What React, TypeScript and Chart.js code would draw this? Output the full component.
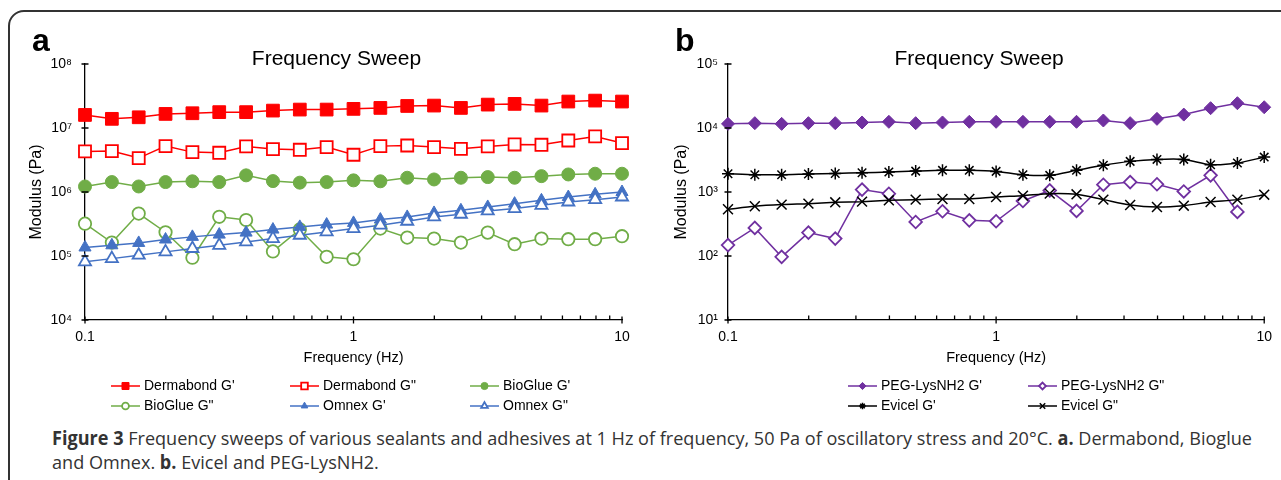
import React, { useEffect, useLayoutEffect, useRef, useState } from 'react';
import { Chart, registerables } from 'chart.js';
import { drawPoint } from 'chart.js/helpers';

Chart.register(...registerables);

const FONT = "'Liberation Sans', Arial, Helvetica, sans-serif";

// ---------- data ----------
const frequencies = [0.1, 0.1259, 0.1585, 0.1995, 0.2512, 0.3162, 0.3981, 0.5012, 0.631, 0.7943, 1, 1.259, 1.585, 1.995, 2.512, 3.162, 3.981, 5.012, 6.31, 7.943, 10];

const dermabondGp = [1.6e7, 1.39e7, 1.47e7, 1.66e7, 1.7e7, 1.77e7, 1.77e7, 1.87e7, 1.94e7, 1.94e7, 1.99e7, 2.06e7, 2.21e7, 2.24e7, 2.06e7, 2.32e7, 2.38e7, 2.24e7, 2.59e7, 2.68e7, 2.59e7];
const dermabondGpp = [4.3e6, 4.36e6, 3.39e6, 5.21e6, 4.2e6, 4.1e6, 5.15e6, 4.68e6, 4.57e6, 5.03e6, 3.82e6, 5.21e6, 5.33e6, 5.03e6, 4.73e6, 5.15e6, 5.53e6, 5.47e6, 6.38e6, 7.38e6, 5.81e6];
const bioglueGp = [1.22e6, 1.43e6, 1.22e6, 1.43e6, 1.47e6, 1.43e6, 1.82e6, 1.48e6, 1.4e6, 1.43e6, 1.52e6, 1.47e6, 1.67e6, 1.57e6, 1.67e6, 1.71e6, 1.67e6, 1.77e6, 1.88e6, 1.93e6, 1.93e6];
const bioglueGpp = [3.2e5, 1.62e5, 4.6e5, 2.35e5, 9.4e4, 4.1e5, 3.65e5, 1.18e5, 2.6e5, 9.7e4, 8.9e4, 2.68e5, 1.94e5, 1.87e5, 1.62e5, 2.32e5, 1.53e5, 1.87e5, 1.83e5, 1.83e5, 2.04e5];
const omnexGp = [1.36e5, 1.47e5, 1.6e5, 1.81e5, 1.99e5, 2.16e5, 2.32e5, 2.59e5, 2.85e5, 3.1e5, 3.29e5, 3.71e5, 4.08e5, 4.71e5, 5.18e5, 5.84e5, 6.58e5, 7.41e5, 8.35e5, 9.2e5, 1.0e6];
const omnexGpp = [8.1e4, 9.1e4, 1.03e5, 1.16e5, 1.31e5, 1.47e5, 1.66e5, 1.87e5, 2.11e5, 2.38e5, 2.68e5, 3.03e5, 3.49e5, 4.08e5, 4.49e5, 5.06e5, 5.5e5, 6.2e5, 6.98e5, 7.6e5, 8.35e5];

const pegGp = [1.16e4, 1.19e4, 1.16e4, 1.19e4, 1.19e4, 1.22e4, 1.25e4, 1.19e4, 1.22e4, 1.25e4, 1.25e4, 1.25e4, 1.25e4, 1.25e4, 1.31e4, 1.19e4, 1.39e4, 1.62e4, 2.04e4, 2.44e4, 2.11e4];
const pegGpp = [148, 275, 97, 232, 187, 1090, 940, 340, 500, 361, 349, 724, 1060, 506, 1300, 1430, 1320, 1020, 1820, 488, null];
const evicelGp = [1930, 1860, 1860, 1910, 1950, 2000, 2050, 2120, 2180, 2180, 2100, 1860, 1820, 2180, 2610, 3010, 3230, 3230, 2670, 2830, 3510];
const evicelGpp = [537, 598, 635, 658, 690, 707, 741, 760, 778, 778, 836, 877, 943, 920, 760, 627, 583, 612, 698, 760, 908];

const xMajorTicks = [0.1, 1, 10];
const xMinorTicks = [0.2, 0.3, 0.4, 0.5, 0.6, 0.7, 0.8, 0.9, 2, 3, 4, 5, 6, 7, 8, 9];
const yTicksA = [1e4, 1e5, 1e6, 1e7, 1e8];
const yTicksB = [1e1, 1e2, 1e3, 1e4, 1e5];

const seriesNamesA = ["Dermabond G'", 'Dermabond G"', "BioGlue G'", 'BioGlue G"', "Omnex G'", 'Omnex G"'];
const seriesNamesB = ["PEG-LysNH2 G'", 'PEG-LysNH2 G"', "Evicel G'", 'Evicel G"'];

const chartTitle = 'Frequency Sweep';
const xTitle = 'Frequency (Hz)';
const yTitle = 'Modulus (Pa)';

// ---------- helpers ----------
const SUP: Record<string, string> = { '0': '⁰', '1': '¹', '2': '²', '3': '³', '4': '⁴', '5': '⁵', '6': '⁶', '7': '⁷', '8': '⁸', '9': '⁹', '-': '⁻' };
const powerLabel = (v: number) => '10' + String(Math.round(Math.log10(v))).split('').map((c) => SUP[c]).join('');
const xLabel = (v: number) => (v < 1 ? String(v) : String(Math.round(v)));

const pts = (vals: (number | null)[]) => frequencies.map((f, i) => ({ x: f, y: vals[i] }));

const RED = '#FF0000';
const GREEN = '#70AD47';
const BLUE = '#4472C4';
const PURPLE = '#7030A0';
const BLACK = '#000000';

function series(label: string, vals: (number | null)[], color: string, style: string, radius: number, filled: boolean, order: number, tension = 0) {
  return {
    label,
    data: pts(vals),
    borderColor: color,
    backgroundColor: color,
    borderWidth: 1.5,
    pointStyle: style,
    pointRadius: radius,
    pointHoverRadius: radius,
    pointBackgroundColor: filled ? color : '#FFFFFF',
    pointBorderColor: color,
    pointBorderWidth: filled ? 1 : 1.8,
    tension,
    clip: false as any,
    order,
  };
}

const decorPlugin = {
  id: 'decor',
  afterDraw(chart: any, _args: any, opts: any) {
    const ctx = chart.ctx as CanvasRenderingContext2D;
    const xs = chart.scales.x;
    const ys = chart.scales.y;
    const { left, right, bottom } = chart.chartArea;
    ctx.save();
    // tick marks
    ctx.strokeStyle = '#000';
    ctx.lineWidth = 1.3;
    ctx.beginPath();
    for (const v of opts.yTicks) {
      const y = ys.getPixelForValue(v);
      ctx.moveTo(left - 3.5, y);
      ctx.lineTo(left + 3.5, y);
    }
    for (const v of xMajorTicks) {
      const x = xs.getPixelForValue(v);
      ctx.moveTo(x, bottom - 3.5);
      ctx.lineTo(x, bottom + 3.5);
    }
    for (const v of xMinorTicks) {
      const x = xs.getPixelForValue(v);
      ctx.moveTo(x, bottom);
      ctx.lineTo(x, bottom - 4.5);
    }
    ctx.stroke();

    // title
    ctx.fillStyle = '#000';
    ctx.font = `21px ${FONT}`;
    ctx.textAlign = 'center';
    ctx.textBaseline = 'middle';
    ctx.fillText(opts.title, (left + right) / 2 - 17, 59);

    // legend
    const items = opts.items as { ds: number; col: number; row: number }[];
    for (const it of items) {
      const ds = chart.data.datasets[it.ds];
      const x0 = opts.cols[it.col];
      const y = opts.rows[it.row];
      ctx.strokeStyle = ds.borderColor;
      ctx.lineWidth = 1.5;
      ctx.beginPath();
      ctx.moveTo(x0, y);
      ctx.lineTo(x0 + 29, y);
      ctx.stroke();
      ctx.fillStyle = ds.pointBackgroundColor;
      ctx.strokeStyle = ds.pointBorderColor;
      ctx.lineWidth = ds.pointBorderWidth;
      drawPoint(ctx, { pointStyle: ds.pointStyle, radius: ds.pointRadius * 0.55, borderWidth: ds.pointBorderWidth, rotation: 0 } as any, x0 + 14.5, y);
      ctx.fillStyle = '#000';
      ctx.font = `14px ${FONT}`;
      ctx.textAlign = 'left';
      ctx.textBaseline = 'middle';
      ctx.fillText(ds.label, x0 + 33, y);
    }
    ctx.restore();
  },
};

type PanelCfg = {
  width: number;
  height: number;
  datasets: any[];
  yMin: number;
  yMax: number;
  yTicks: number[];
  padLeft: number;
  padRight: number;
  yAxisWidth: number;
  yTickPad: number;
  cols: number[];
  rows: number[];
  items: { ds: number; col: number; row: number }[];
};

const PLOT_TOP = 64;
const PLOT_BOTTOM = 320;
const X_AXIS_H = 50;

function Panel({ cfg }: { cfg: PanelCfg }) {
  const ref = useRef<HTMLCanvasElement>(null);
  useEffect(() => {
    if (!ref.current) return;
    const chart = new Chart(ref.current, {
      type: 'line',
      data: { datasets: cfg.datasets },
      plugins: [decorPlugin as any],
      options: {
        responsive: false,
        animation: false,
        events: [],
        layout: {
          padding: {
            top: PLOT_TOP,
            left: cfg.padLeft,
            right: cfg.padRight,
            bottom: cfg.height - PLOT_BOTTOM - X_AXIS_H,
          },
        },
        scales: {
          x: {
            type: 'logarithmic',
            min: 0.1,
            max: 10,
            z: 1,
            afterBuildTicks: (axis: any) => {
              axis.ticks = xMajorTicks.map((v) => ({ value: v }));
            },
            afterFit: (axis: any) => {
              axis.height = X_AXIS_H;
            },
            grid: { display: false, drawTicks: false, tickLength: 0 },
            border: { display: true, color: '#000', width: 1.3 },
            ticks: {
              autoSkip: false,
              maxRotation: 0,
              padding: 9,
              color: '#000',
              font: { family: FONT, size: 14 },
              callback: (v: any) => xLabel(Number(v)),
            },
            title: {
              display: true,
              text: xTitle,
              color: '#000',
              font: { family: FONT, size: 14.5 },
              padding: { top: 0, bottom: 3.3 },
            },
          },
          y: {
            type: 'logarithmic',
            min: cfg.yMin,
            max: cfg.yMax,
            z: 1,
            afterBuildTicks: (axis: any) => {
              axis.ticks = cfg.yTicks.map((v) => ({ value: v }));
            },
            afterFit: (axis: any) => {
              axis.width = cfg.yAxisWidth;
            },
            grid: { display: false, drawTicks: false, tickLength: 0 },
            border: { display: true, color: '#000', width: 1.3 },
            ticks: {
              autoSkip: false,
              padding: cfg.yTickPad,
              color: '#000',
              font: { family: FONT, size: 14 },
              callback: (v: any) => powerLabel(Number(v)),
            },
            title: {
              display: true,
              text: yTitle,
              color: '#000',
              font: { family: FONT, size: 16 },
              padding: { top: 7.4, bottom: 0 },
            },
          },
        },
        plugins: {
          legend: { display: false },
          tooltip: { enabled: false },
          decor: { title: chartTitle, yTicks: cfg.yTicks, cols: cfg.cols, rows: cfg.rows, items: cfg.items },
        } as any,
      } as any,
    });
    return () => chart.destroy();
  }, [cfg]);
  return <canvas ref={ref} width={cfg.width} height={cfg.height} style={{ display: 'block', width: cfg.width, height: cfg.height }} />;
}

const datasetsA = [
  series(seriesNamesA[0], dermabondGp, RED, 'rect', 9, true, 6),
  series(seriesNamesA[1], dermabondGpp, RED, 'rect', 8.5, false, 5),
  series(seriesNamesA[2], bioglueGp, GREEN, 'circle', 6.5, true, 4),
  series(seriesNamesA[3], bioglueGpp, GREEN, 'circle', 6.2, false, 3),
  series(seriesNamesA[4], omnexGp, BLUE, 'triangle', 7, true, 2),
  series(seriesNamesA[5], omnexGpp, BLUE, 'triangle', 7, false, 1),
];

const datasetsB = [
  series(seriesNamesB[0], pegGp, PURPLE, 'rectRot', 6.5, true, 4),
  series(seriesNamesB[1], pegGpp, PURPLE, 'rectRot', 6.3, false, 3),
  series(seriesNamesB[2], evicelGp, BLACK, 'star', 6, false, 2, 0.25),
  series(seriesNamesB[3], evicelGpp, BLACK, 'crossRot', 7, false, 1, 0.25),
];
datasetsB[2].pointBorderWidth = 1.5;
datasetsB[3].pointBorderWidth = 1.5;

const cfgA: PanelCfg = {
  width: 640,
  height: 425,
  datasets: datasetsA,
  yMin: 1e4,
  yMax: 1e8,
  yTicks: yTicksA,
  padLeft: 20,
  padRight: 18,
  yAxisWidth: 65,
  yTickPad: 13,
  cols: [111, 290, 470],
  rows: [386, 406],
  items: [
    { ds: 0, col: 0, row: 0 },
    { ds: 1, col: 1, row: 0 },
    { ds: 2, col: 2, row: 0 },
    { ds: 3, col: 0, row: 1 },
    { ds: 4, col: 1, row: 1 },
    { ds: 5, col: 2, row: 1 },
  ],
};

const cfgB: PanelCfg = {
  width: 641,
  height: 425,
  datasets: datasetsB,
  yMin: 1e1,
  yMax: 1e5,
  yTicks: yTicksB,
  padLeft: 25,
  padRight: 16,
  yAxisWidth: 63,
  yTickPad: 10,
  cols: [208, 388],
  rows: [386, 406],
  items: [
    { ds: 0, col: 0, row: 0 },
    { ds: 1, col: 1, row: 0 },
    { ds: 2, col: 0, row: 1 },
    { ds: 3, col: 1, row: 1 },
  ],
};

const CAPTION_WIDTH = 1200;

function Caption() {
  const ref = useRef<HTMLDivElement>(null);
  const [sx, setSx] = useState(0.85);
  useLayoutEffect(() => {
    const el = ref.current;
    if (el && el.offsetWidth > 0) setSx(CAPTION_WIDTH / el.offsetWidth);
  }, []);
  const lineStyle: React.CSSProperties = {
    display: 'inline-block',
    whiteSpace: 'nowrap',
    transform: `scaleX(${sx})`,
    transformOrigin: 'left center',
  };
  return (
    <div
      style={{
        position: 'absolute',
        left: 52,
        top: 426,
        fontFamily: "'Open Sans', 'Noto Sans', sans-serif",
        fontSize: 19,
        lineHeight: '24px',
        color: '#333',
      }}
    >
      <div>
        <div ref={ref} style={lineStyle}>
          <b>Figure 3</b> Frequency sweeps of various sealants and adhesives at 1 Hz of frequency, 50 Pa of oscillatory stress and 20°C. <b>a.</b> Dermabond, Bioglue
        </div>
      </div>
      <div>
        <div style={lineStyle}>
          and Omnex. <b>b.</b> Evicel and PEG-LysNH2.
        </div>
      </div>
    </div>
  );
}

export default function App() {
  useEffect(() => {
    document.body.style.margin = '0';
    document.body.style.background = '#fff';
  }, []);
  const panelLabel: React.CSSProperties = {
    position: 'absolute',
    top: 24,
    fontFamily: FONT,
    fontWeight: 'bold',
    fontSize: 32,
    lineHeight: '32px',
    color: '#000',
  };
  return (
    <div style={{ position: 'relative', width: 1281, height: 480, overflow: 'hidden', background: '#fff' }}>
      <div
        style={{
          position: 'absolute',
          left: 8,
          top: 10,
          width: 1320,
          height: 520,
          border: '2px solid #333',
          borderRadius: 16,
          boxSizing: 'border-box',
        }}
      />
      <div style={{ position: 'absolute', left: 0, top: 0 }}>
        <Panel cfg={cfgA} />
      </div>
      <div style={{ position: 'absolute', left: 640, top: 0 }}>
        <Panel cfg={cfgB} />
      </div>
      <div style={{ ...panelLabel, left: 32 }}>a</div>
      <div style={{ ...panelLabel, left: 675 }}>b</div>
      <Caption />
    </div>
  );
}
